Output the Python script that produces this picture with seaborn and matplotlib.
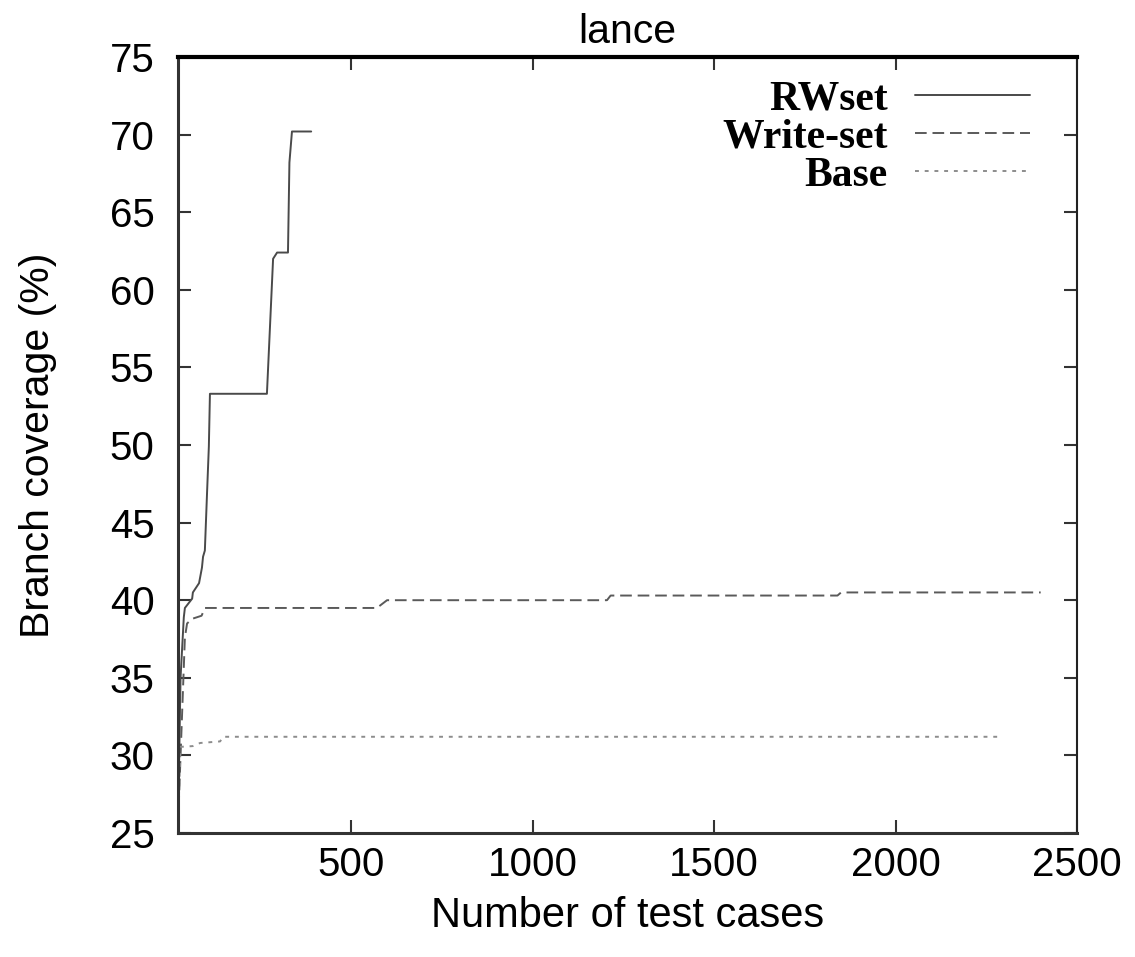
import matplotlib
matplotlib.use("Agg")
import matplotlib.pyplot as plt
import seaborn as sns
import pandas as pd
from matplotlib.lines import Line2D

# ---- data ----
rw_x = [23, 30, 39, 42, 62, 64, 81, 89, 92, 97, 103, 108, 111, 268, 285, 296, 326, 330, 337, 390]
rw_y = [25.5, 35.0, 38.9, 39.5, 40.1, 40.5, 41.1, 42.1, 42.8, 43.2, 46.9, 49.9, 53.3, 53.3, 62.0, 62.4, 62.4, 68.2, 70.2, 70.2]

ws_x = [23, 42, 48, 62, 88, 97, 571, 599, 1205, 1215, 1840, 1850, 2400]
ws_y = [25.5, 37.6, 38.5, 38.8, 39.0, 39.5, 39.5, 40.0, 40.0, 40.3, 40.3, 40.5, 40.5]

base_x = [23, 30, 64, 84, 139, 147, 2290]
base_y = [25.5, 30.55, 30.6, 30.8, 30.9, 31.2, 31.2]

series_names = ["RWset", "Write-set", "Base"]
x_ticks = [500, 1000, 1500, 2000, 2500]
y_ticks = [25, 30, 35, 40, 45, 50, 55, 60, 65, 70, 75]

title = "lance"
x_label = "Number of test cases"
y_label = "Branch coverage (%)"

# ---- styling ----
sns.set_theme(style="white")
plt.rcParams['font.family'] = ['Liberation Sans', 'DejaVu Sans']
plt.rcParams['text.color'] = 'black'
plt.rcParams['axes.labelcolor'] = 'black'

W, H, DPI = 1135, 957, 100
fig = plt.figure(figsize=(W / DPI, H / DPI), dpi=DPI)
ax = fig.add_axes([178 / W, 1 - 833 / H, (1077 - 178) / W, (833 - 57) / H])

colors = ["#4a4a4a", "#5a5a5a", "#8c8c8c"]
dashes = [(None, None), (6, 3), (2, 3)]
lw = 1.4

data = [(rw_x, rw_y), (ws_x, ws_y), (base_x, base_y)]
handles = []
for (xs, ys), name, c, d in zip(data, series_names, colors, dashes):
    df = pd.DataFrame({"x": xs, "y": ys})
    sns.lineplot(data=df, x="x", y="y", ax=ax, color=c, linewidth=lw,
                 estimator=None, sort=False, legend=False)
    line = ax.lines[-1]
    if d[0] is not None:
        line.set_dashes(d)
    h = Line2D([0], [0], color=c, linewidth=lw)
    if d[0] is not None:
        h.set_dashes(d)
    handles.append(h)

ax.set_xlim(23, 2500)
ax.set_ylim(25, 75)
ax.set_xticks(x_ticks)
ax.set_yticks(y_ticks)
ax.set_xticklabels([str(t) for t in x_ticks])
ax.set_yticklabels([str(t) for t in y_ticks])

ax.tick_params(axis="both", which="both", direction="in", length=9.5, width=1.5,
               color="#333333", labelsize=29, labelcolor="black",
               top=True, right=True, bottom=True, left=True)
ax.tick_params(axis="y", pad=17)
ax.tick_params(axis="x", pad=9)

for side, w, c in [("left", 2.2, "#333333"), ("top", 3.0, "black"),
                   ("bottom", 2.2, "#333333"), ("right", 1.5, "#222222")]:
    ax.spines[side].set_visible(True)
    ax.spines[side].set_linewidth(w)
    ax.spines[side].set_color(c)

ax.set_xlabel(x_label, fontsize=30, labelpad=9)
ax.set_ylabel(y_label, fontsize=29.5, labelpad=38)
ax.set_title(title, fontsize=29.5, pad=10, color="black")

leg = ax.legend(handles, series_names, loc="upper right",
                bbox_to_anchor=((1030 - 178) / 899, (833 - 80) / 776),
                frameon=False, markerfirst=False, borderpad=0, borderaxespad=0,
                handlelength=2.76, handletextpad=0.65, labelspacing=0.0,
                prop={"family": ["Liberation Serif", "DejaVu Serif"], "weight": "bold", "size": 30})
for t in leg.get_texts():
    t.set_ha("right")
    t.set_color("black")

fig.savefig("out.png", dpi=DPI)
